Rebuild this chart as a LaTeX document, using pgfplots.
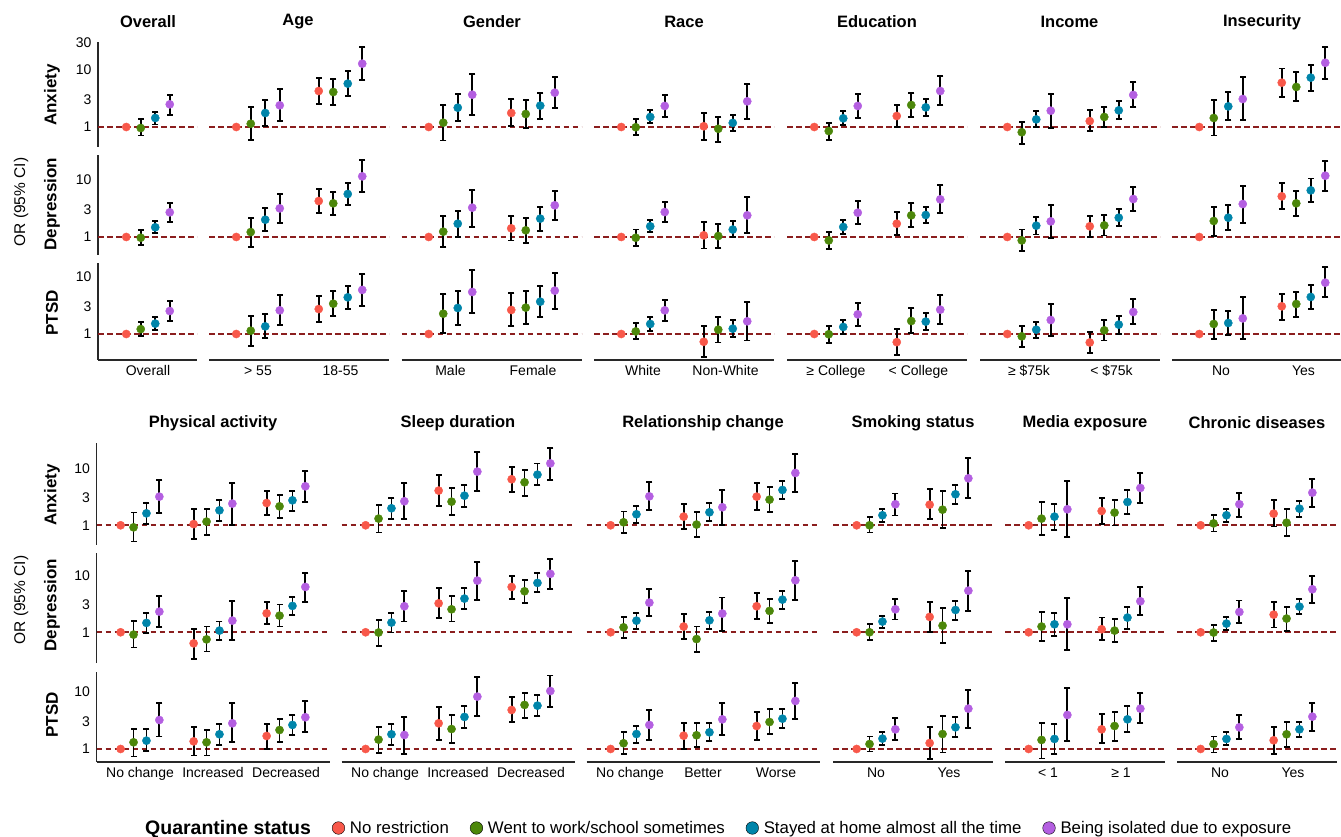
\documentclass[border=0pt]{standalone}
\usepackage{fontspec}
\setmainfont{Liberation Sans}
\usepackage{pgfplots}
\usepackage{pgfplotstable}
\pgfplotsset{compat=1.18}
\definecolor{cr}{RGB}{248,88,74}
\definecolor{cg}{RGB}{76,135,10}
\definecolor{cb}{RGB}{0,133,170}
\definecolor{cp}{RGB}{180,95,225}
\definecolor{refc}{RGB}{139,30,30}
\definecolor{axc}{RGB}{40,40,40}
\newcommand\tfont{\fontsize{14}{16}\selectfont}
\newcommand\hfont{\fontsize{16.5}{19}\selectfont\bfseries}
\newcommand\rfont{\fontsize{17}{19}\selectfont\bfseries}
\pgfplotsset{
 my panel/.style={/pgfplots/.cd, scale only axis, clip=false,
  axis x line*=bottom, axis y line*=left,
  x axis line style={draw=none}, y axis line style={draw=none},
  xtick=\empty, ytick=\empty, major tick length=0pt, minor tick length=0pt,
  extra y ticks={1}, extra y tick labels={}, extra y tick style={grid=major},
  major grid style={draw=refc, line width=1.7pt, dash pattern=on 5.5pt off 3.5pt},
  tick label style={font=\tfont}, xticklabel style={yshift=-2pt}, yticklabel style={xshift=-3pt}},
 my ly/.style={/pgfplots/.cd, y axis line style={draw=axc, line width=1.3pt}, ytick={1,3,10}, yticklabels={1,3,10}},
 my bx/.style={/pgfplots/.cd, x axis line style={draw=axc, line width=1.3pt}},
 my tA/.style={/pgfplots/.cd, ymin=0.446, ymax=31, height=105pt},
 my tD/.style={/pgfplots/.cd, ymin=0.483, ymax=27.5, height=100pt},
 my tP/.style={/pgfplots/.cd, ymin=0.35, ymax=17.6, height=97pt},
 my bA/.style={/pgfplots/.cd, ymin=0.451, ymax=27.8, height=102pt},
 my bD/.style={/pgfplots/.cd, ymin=0.289, ymax=24.6, height=110pt},
 my bP/.style={/pgfplots/.cd, ymin=0.591, ymax=22.4, height=90pt},
 my c1/.style={/pgfplots/.cd, xmin=-50, xmax=49, width=99pt},
 my c2/.style={/pgfplots/.cd, xmin=-49, xmax=131, width=180pt},
 my b3/.style={/pgfplots/.cd, xmin=-43.5, xmax=189.5, width=233pt},
 my b2/.style={/pgfplots/.cd, xmin=-43, xmax=117, width=160pt},
 my cap/.style={/pgfplots/.cd, only marks, color=black, mark=-, mark size=3pt, mark options={draw=black, line width=1.8pt}},
 my dots/.style={/pgfplots/.cd, scatter, only marks, mark=*, mark size=4.1pt, point meta=explicit symbolic,
  scatter/classes={r={draw=cr,fill=cr},g={draw=cg,fill=cg},b={draw=cb,fill=cb},p={draw=cp,fill=cp}}},
}
\newcommand{\panel}[2]{%
\begin{axis}[ymode=log,my panel,anchor=south west,#1]
\addplot[only marks, mark=none, error bars/y dir=both, error bars/y explicit, error bars/error mark=none,
  error bars/error bar style={draw=black, line width=1.8pt, solid}]
 table[x expr=\thisrow{g}*\GS+(\thisrow{k}-1.5)*\DS, y=y, y error plus expr=\thisrow{hi}-\thisrow{y}, y error minus expr=\thisrow{y}-\thisrow{lo}] {#2};
\addplot[my cap] table[x expr=\thisrow{g}*\GS+(\thisrow{k}-1.5)*\DS, y=lo] {#2};
\addplot[my cap] table[x expr=\thisrow{g}*\GS+(\thisrow{k}-1.5)*\DS, y=hi] {#2};
\addplot[my dots] table[x expr=\thisrow{g}*\GS+(\thisrow{k}-1.5)*\DS, y=y, meta=c] {#2};
\end{axis}}
% ---------------- top block ----------------
\pgfplotstableread{
g k c y lo hi
0 0 r 1 1 1
0 1 g 0.96 0.71 1.36
0 2 b 1.44 1.11 1.83
0 3 p 2.50 1.65 3.69
}\tOvA
\pgfplotstableread{
g k c y lo hi
0 0 r 1 1 1
0 1 g 0.97 0.73 1.31
0 2 b 1.48 1.18 1.91
0 3 p 2.71 1.81 3.95
}\tOvD
\pgfplotstableread{
g k c y lo hi
0 0 r 1 1 1
0 1 g 1.22 0.91 1.62
0 2 b 1.52 1.19 1.96
0 3 p 2.53 1.71 3.74
}\tOvP
\pgfplotstableread{
g k c y lo hi
0 0 r 1 1 1
0 1 g 1.14 0.60 2.24
0 2 b 1.76 1.03 2.94
0 3 p 2.40 1.27 4.71
1 0 r 4.28 2.50 7.24
1 1 g 4.11 2.43 6.95
1 2 b 5.76 3.50 9.60
1 3 p 12.9 6.59 25.3
}\tAgA
\pgfplotstableread{
g k c y lo hi
0 0 r 1 1 1
0 1 g 1.22 0.67 2.15
0 2 b 2.01 1.27 3.18
0 3 p 3.18 1.78 5.68
1 0 r 4.28 2.64 6.95
1 1 g 3.90 2.40 6.24
1 2 b 5.68 3.60 8.87
1 3 p 11.6 6.07 22.7
}\tAgD
\pgfplotstableread{
g k c y lo hi
0 0 r 1 1 1
0 1 g 1.14 0.61 2.07
0 2 b 1.36 0.85 2.21
0 3 p 2.60 1.42 4.83
1 0 r 2.74 1.62 4.64
1 1 g 3.40 2.04 5.76
1 2 b 4.40 2.74 7.05
1 3 p 5.93 3.06 11.4
}\tAgP
\pgfplotstableread{
g k c y lo hi
0 0 r 1 1 1
0 1 g 1.19 0.58 2.40
0 2 b 2.18 1.26 3.84
0 3 p 3.69 1.65 8.39
1 0 r 1.76 1.03 3.10
1 1 g 1.69 0.97 3.02
1 2 b 2.37 1.40 4.00
1 3 p 4.00 2.15 7.63
}\tGeA
\pgfplotstableread{
g k c y lo hi
0 0 r 1 1 1
0 1 g 1.24 0.66 2.30
0 2 b 1.71 1.00 2.82
0 3 p 3.27 1.52 6.77
1 0 r 1.42 0.87 2.37
1 1 g 1.31 0.78 2.15
1 2 b 2.10 1.29 3.31
1 3 p 3.60 2.01 6.33
}\tGeD
\pgfplotstableread{
g k c y lo hi
0 0 r 1 1 1
0 1 g 2.27 1.04 4.96
0 2 b 2.86 1.46 5.60
0 3 p 5.46 2.34 13.4
1 0 r 2.64 1.36 5.17
1 1 g 2.90 1.52 5.60
1 2 b 3.69 1.96 6.95
1 3 p 5.76 2.74 11.8
}\tGeP
\pgfplotstableread{
g k c y lo hi
0 0 r 1 1 1
0 1 g 0.99 0.72 1.40
0 2 b 1.50 1.16 1.96
0 3 p 2.34 1.50 3.60
1 0 r 1.03 0.59 1.76
1 1 g 0.93 0.55 1.52
1 2 b 1.18 0.84 1.65
1 3 p 2.82 1.38 5.76
}\tRaA
\pgfplotstableread{
g k c y lo hi
0 0 r 1 1 1
0 1 g 0.97 0.70 1.35
0 2 b 1.54 1.21 1.99
0 3 p 2.74 1.81 4.17
1 0 r 1.07 0.63 1.86
1 1 g 1.04 0.64 1.71
1 2 b 1.35 0.99 1.88
1 3 p 2.40 1.18 4.96
}\tRaD
\pgfplotstableread{
g k c y lo hi
0 0 r 1 1 1
0 1 g 1.11 0.82 1.58
0 2 b 1.50 1.14 1.99
0 3 p 2.60 1.67 4.00
1 0 r 0.73 0.40 1.36
1 1 g 1.19 0.71 1.96
1 2 b 1.24 0.89 1.74
1 3 p 1.67 0.77 3.60
}\tRaP
\pgfplotstableread{
g k c y lo hi
0 0 r 1 1 1
0 1 g 0.85 0.60 1.19
0 2 b 1.42 1.07 1.88
0 3 p 2.34 1.46 3.79
1 0 r 1.56 1.00 2.46
1 1 g 2.43 1.48 3.95
1 2 b 2.21 1.58 3.06
1 3 p 4.28 2.40 7.74
}\tEdA
\pgfplotstableread{
g k c y lo hi
0 0 r 1 1 1
0 1 g 0.87 0.62 1.21
0 2 b 1.50 1.13 1.96
0 3 p 2.67 1.69 4.22
1 0 r 1.71 1.10 2.71
1 1 g 2.40 1.48 3.95
1 2 b 2.43 1.76 3.36
1 3 p 4.58 2.60 8.17
}\tEdD
\pgfplotstableread{
g k c y lo hi
0 0 r 1 1 1
0 1 g 0.99 0.70 1.36
0 2 b 1.33 1.00 1.74
0 3 p 2.21 1.40 3.50
1 0 r 0.72 0.43 1.22
1 1 g 1.69 1.03 2.82
1 2 b 1.65 1.18 2.30
1 3 p 2.67 1.48 4.83
}\tEdP
\pgfplotstableread{
g k c y lo hi
0 0 r 1 1 1
0 1 g 0.81 0.51 1.24
0 2 b 1.36 0.99 1.88
0 3 p 1.93 0.97 3.79
1 0 r 1.27 0.84 1.96
1 1 g 1.50 0.99 2.27
1 2 b 1.96 1.40 2.82
1 3 p 3.65 2.21 6.16
}\tInA
\pgfplotstableread{
g k c y lo hi
0 0 r 1 1 1
0 1 g 0.87 0.57 1.35
0 2 b 1.58 1.11 2.21
0 3 p 1.88 0.95 3.65
1 0 r 1.54 1.01 2.30
1 1 g 1.60 1.06 2.40
1 2 b 2.18 1.54 3.10
1 3 p 4.64 2.90 7.63
}\tInD
\pgfplotstableread{
g k c y lo hi
0 0 r 1 1 1
0 1 g 0.91 0.59 1.36
0 2 b 1.19 0.85 1.62
0 3 p 1.76 0.92 3.40
1 0 r 0.71 0.46 1.10
1 1 g 1.16 0.77 1.74
1 2 b 1.46 1.00 2.04
1 3 p 2.43 1.52 4.06
}\tInP
\pgfplotstableread{
g k c y lo hi
0 0 r 1 1 1
0 1 g 1.44 0.71 2.94
0 2 b 2.30 1.31 4.11
0 3 p 3.10 1.31 7.63
1 0 r 5.99 3.36 10.6
1 1 g 5.04 2.86 9.10
1 2 b 7.34 4.22 12.4
1 3 p 13.4 6.95 25.3
}\tIsA
\pgfplotstableread{
g k c y lo hi
0 0 r 1 1 1
0 1 g 1.91 1.03 3.36
0 2 b 2.18 1.31 3.60
0 3 p 3.79 1.76 7.74
1 0 r 5.17 3.10 8.87
1 1 g 3.90 2.30 6.42
1 2 b 6.59 4.06 10.6
1 3 p 11.9 6.50 21.8
}\tIsD
\pgfplotstableread{
g k c y lo hi
0 0 r 1 1 1
0 1 g 1.50 0.82 2.67
0 2 b 1.56 0.96 2.53
0 3 p 1.88 0.82 4.40
1 0 r 3.06 1.78 5.10
1 1 g 3.36 1.99 5.53
1 2 b 4.46 2.74 7.15
1 3 p 7.95 4.46 14.8
}\tIsP
% ---------------- bottom block ----------------
\pgfplotstableread{
g k c y lo hi
0 0 r 1 1 1
0 1 g 0.92 0.52 1.67
0 2 b 1.62 1.04 2.43
0 3 p 3.18 1.62 6.24
1 0 r 1.05 0.58 1.96
1 1 g 1.16 0.68 1.96
1 2 b 1.83 1.19 2.82
1 3 p 2.40 1.01 5.46
2 0 r 2.46 1.52 4.06
2 1 g 2.15 1.35 3.45
2 2 b 2.74 1.78 4.06
2 3 p 4.83 2.60 8.99
}\tPhA
\pgfplotstableread{
g k c y lo hi
0 0 r 1 1 1
0 1 g 0.91 0.54 1.56
0 2 b 1.46 0.96 2.15
0 3 p 2.30 1.22 4.34
1 0 r 0.64 0.34 1.14
1 1 g 0.75 0.46 1.26
1 2 b 1.07 0.73 1.54
1 3 p 1.60 0.73 3.55
2 0 r 2.15 1.38 3.45
2 1 g 1.96 1.26 3.06
2 2 b 2.90 1.99 4.22
2 3 p 6.24 3.45 11.1
}\tPhD
\pgfplotstableread{
g k c y lo hi
0 0 r 1 1 1
0 1 g 1.31 0.74 2.24
0 2 b 1.40 0.91 2.21
0 3 p 3.22 1.65 6.33
1 0 r 1.36 0.77 2.40
1 1 g 1.31 0.77 2.15
1 2 b 1.81 1.19 2.71
1 3 p 2.82 1.31 6.33
2 0 r 1.69 1.00 2.74
2 1 g 2.15 1.31 3.40
2 2 b 2.64 1.74 4.00
2 3 p 3.60 1.96 6.95
}\tPhP
\pgfplotstableread{
g k c y lo hi
0 0 r 1 1 1
0 1 g 1.31 0.75 2.27
0 2 b 1.99 1.31 3.06
0 3 p 2.64 1.27 5.46
1 0 r 4.06 2.15 7.74
1 1 g 2.60 1.50 4.46
1 2 b 3.31 2.12 5.17
1 3 p 8.75 4.00 19.4
2 0 r 6.42 3.90 10.7
2 1 g 5.68 3.31 9.36
2 2 b 7.74 5.04 12.1
2 3 p 12.2 6.33 23.0
}\tSlA
\pgfplotstableread{
g k c y lo hi
0 0 r 1 1 1
0 1 g 0.99 0.58 1.65
0 2 b 1.48 0.99 2.21
0 3 p 2.86 1.54 5.31
1 0 r 3.22 1.76 5.99
1 1 g 2.53 1.54 4.28
1 2 b 3.90 2.60 5.93
1 3 p 8.06 3.69 16.9
2 0 r 6.24 3.79 9.80
2 1 g 5.24 3.22 8.39
2 2 b 7.34 5.10 10.8
2 3 p 10.6 5.68 19.1
}\tSlD
\pgfplotstableread{
g k c y lo hi
0 0 r 1 1 1
0 1 g 1.46 0.86 2.46
0 2 b 1.81 1.16 2.78
0 3 p 1.76 0.81 3.69
1 0 r 2.82 1.44 5.53
1 1 g 2.24 1.29 3.95
1 2 b 3.65 2.37 5.60
1 3 p 8.28 3.79 18.1
2 0 r 4.83 2.94 8.28
2 1 g 5.93 3.55 9.70
2 2 b 5.76 3.79 8.75
2 3 p 10.4 5.53 19.4
}\tSlP
\pgfplotstableread{
g k c y lo hi
0 0 r 1 1 1
0 1 g 1.13 0.74 1.74
0 2 b 1.56 1.08 2.21
0 3 p 3.22 1.83 5.68
1 0 r 1.42 0.86 2.37
1 1 g 1.03 0.62 1.69
1 2 b 1.69 1.19 2.43
1 3 p 2.07 1.01 4.17
2 0 r 3.18 1.86 5.46
2 1 g 2.82 1.71 4.64
2 2 b 4.17 2.90 6.07
2 3 p 8.28 3.84 18.1
}\tReA
\pgfplotstableread{
g k c y lo hi
0 0 r 1 1 1
0 1 g 1.22 0.80 1.83
0 2 b 1.60 1.14 2.21
0 3 p 3.31 1.96 5.68
1 0 r 1.26 0.77 2.07
1 1 g 0.76 0.45 1.26
1 2 b 1.62 1.13 2.30
1 3 p 2.13 1.07 4.06
2 0 r 2.86 1.69 4.96
2 1 g 2.37 1.44 3.84
2 2 b 3.74 2.56 5.24
2 3 p 8.17 3.69 17.6
}\tReD
\pgfplotstableread{
g k c y lo hi
0 0 r 1 1 1
0 1 g 1.26 0.81 1.96
0 2 b 1.83 1.29 2.56
0 3 p 2.64 1.44 4.83
1 0 r 1.71 1.00 2.90
1 1 g 1.74 1.07 2.82
1 2 b 1.96 1.36 2.90
1 3 p 3.31 1.76 6.33
2 0 r 2.53 1.44 4.52
2 1 g 2.97 1.81 4.96
2 2 b 3.40 2.37 4.96
2 3 p 6.95 3.31 14.6
}\tReP
\pgfplotstableread{
g k c y lo hi
0 0 r 1 1 1
0 1 g 1.00 0.75 1.42
0 2 b 1.50 1.13 1.93
0 3 p 2.34 1.48 3.60
1 0 r 2.30 1.31 4.28
1 1 g 1.88 0.91 4.00
1 2 b 3.50 2.34 5.17
1 3 p 6.67 2.97 15.0
}\tSmA
\pgfplotstableread{
g k c y lo hi
0 0 r 1 1 1
0 1 g 1.00 0.74 1.40
0 2 b 1.54 1.19 1.96
0 3 p 2.53 1.67 3.79
1 0 r 1.86 1.00 3.36
1 1 g 1.31 0.64 2.67
1 2 b 2.46 1.65 3.55
1 3 p 5.37 2.34 11.9
}\tSmD
\pgfplotstableread{
g k c y lo hi
0 0 r 1 1 1
0 1 g 1.22 0.90 1.65
0 2 b 1.52 1.18 1.96
0 3 p 2.21 1.44 3.45
1 0 r 1.27 0.67 2.46
1 1 g 1.83 0.87 3.84
1 2 b 2.40 1.60 3.60
1 3 p 5.10 2.37 11.0
}\tSmP
\pgfplotstableread{
g k c y lo hi
0 0 r 1 1 1
0 1 g 1.31 0.67 2.53
0 2 b 1.42 0.83 2.40
0 3 p 1.91 0.62 5.99
1 0 r 1.78 1.05 2.97
1 1 g 1.67 0.99 2.82
1 2 b 2.56 1.56 4.17
1 3 p 4.52 2.50 8.28
}\tMeA
\pgfplotstableread{
g k c y lo hi
0 0 r 1 1 1
0 1 g 1.26 0.71 2.27
0 2 b 1.38 0.86 2.21
0 3 p 1.38 0.49 3.95
1 0 r 1.13 0.73 1.81
1 1 g 1.07 0.67 1.69
1 2 b 1.81 1.16 2.74
1 3 p 3.50 2.01 6.16
}\tMeD
\pgfplotstableread{
g k c y lo hi
0 0 r 1 1 1
0 1 g 1.44 0.68 2.90
0 2 b 1.50 0.82 2.71
0 3 p 3.95 1.40 11.6
1 0 r 2.21 1.26 4.06
1 1 g 2.53 1.40 4.40
1 2 b 3.31 1.96 5.68
1 3 p 5.10 2.82 9.70
}\tMeP
\pgfplotstableread{
g k c y lo hi
0 0 r 1 1 1
0 1 g 1.08 0.78 1.52
0 2 b 1.50 1.16 1.96
0 3 p 2.34 1.42 3.74
1 0 r 1.60 0.95 2.78
1 1 g 1.11 0.65 1.93
1 2 b 1.96 1.40 2.71
1 3 p 3.74 2.12 6.59
}\tChA
\pgfplotstableread{
g k c y lo hi
0 0 r 1 1 1
0 1 g 0.99 0.71 1.36
0 2 b 1.42 1.10 1.83
0 3 p 2.27 1.44 3.60
1 0 r 2.04 1.21 3.36
1 1 g 1.74 1.05 2.78
1 2 b 2.82 2.07 3.79
1 3 p 5.68 3.31 9.80
}\tChD
\pgfplotstableread{
g k c y lo hi
0 0 r 1 1 1
0 1 g 1.22 0.87 1.65
0 2 b 1.50 1.16 1.96
0 3 p 2.40 1.48 3.95
1 0 r 1.42 0.82 2.46
1 1 g 1.81 1.10 2.94
1 2 b 2.21 1.60 3.02
1 3 p 3.69 2.07 6.50
}\tChP
\begin{document}
\begin{tikzpicture}
\useasboundingbox (0,0) rectangle (1341pt,836pt);
% ===== top block =====
\def\GS{82.5}\def\DS{14.5}
\panel{at={(98pt,689pt)},my c1,my tA,my ly,ytick={1,3,10,30},yticklabels={1,3,10,30}}{\tOvA}
\panel{at={(98pt,581pt)},my c1,my tD,my ly}{\tOvD}
\panel{at={(98pt,476pt)},my c1,my tP,my ly,my bx,xtick={0},xticklabels={Overall}}{\tOvP}
\panel{at={(209pt,689pt)},my c2,my tA}{\tAgA}
\panel{at={(209pt,581pt)},my c2,my tD}{\tAgD}
\panel{at={(209pt,476pt)},my c2,my tP,my bx,xtick={0,82.5},xticklabels={> 55,18-55}}{\tAgP}
\panel{at={(401.5pt,689pt)},my c2,my tA}{\tGeA}
\panel{at={(401.5pt,581pt)},my c2,my tD}{\tGeD}
\panel{at={(401.5pt,476pt)},my c2,my tP,my bx,xtick={0,82.5},xticklabels={Male,Female}}{\tGeP}
\panel{at={(594pt,689pt)},my c2,my tA}{\tRaA}
\panel{at={(594pt,581pt)},my c2,my tD}{\tRaD}
\panel{at={(594pt,476pt)},my c2,my tP,my bx,xtick={0,82.5},xticklabels={White,Non-White}}{\tRaP}
\panel{at={(787pt,689pt)},my c2,my tA}{\tEdA}
\panel{at={(787pt,581pt)},my c2,my tD}{\tEdD}
\panel{at={(787pt,476pt)},my c2,my tP,my bx,xtick={0,82.5},xticklabels={≥ College,< College}}{\tEdP}
\panel{at={(980pt,689pt)},my c2,my tA}{\tInA}
\panel{at={(980pt,581pt)},my c2,my tD}{\tInD}
\panel{at={(980pt,476pt)},my c2,my tP,my bx,xtick={0,82.5},xticklabels={≥ \$75k,< \$75k}}{\tInP}
\panel{at={(1172pt,689pt)},my c2,my tA}{\tIsA}
\panel{at={(1172pt,581pt)},my c2,my tD}{\tIsD}
\panel{at={(1172pt,476pt)},my c2,my tP,my bx,xtick={0,82.5},xticklabels={No,Yes}}{\tIsP}
% ===== bottom block =====
\def\GS{73}\def\DS{12.9}
\panel{at={(96.5pt,291pt)},my b3,my bA,my ly}{\tPhA}
\panel{at={(96.5pt,173pt)},my b3,my bD,my ly}{\tPhD}
\panel{at={(96.5pt,74pt)},my b3,my bP,my ly,my bx,xtick={0,73,146},xticklabels={No change,Increased,Decreased}}{\tPhP}
\panel{at={(341.5pt,291pt)},my b3,my bA}{\tSlA}
\panel{at={(341.5pt,173pt)},my b3,my bD}{\tSlD}
\panel{at={(341.5pt,74pt)},my b3,my bP,my bx,xtick={0,73,146},xticklabels={No change,Increased,Decreased}}{\tSlP}
\panel{at={(586.5pt,291pt)},my b3,my bA}{\tReA}
\panel{at={(586.5pt,173pt)},my b3,my bD}{\tReD}
\panel{at={(586.5pt,74pt)},my b3,my bP,my bx,xtick={0,73,146},xticklabels={No change,Better,Worse}}{\tReP}
\panel{at={(833pt,291pt)},my b2,my bA}{\tSmA}
\panel{at={(833pt,173pt)},my b2,my bD}{\tSmD}
\panel{at={(833pt,74pt)},my b2,my bP,my bx,xtick={0,73},xticklabels={No,Yes}}{\tSmP}
\panel{at={(1005pt,291pt)},my b2,my bA}{\tMeA}
\panel{at={(1005pt,173pt)},my b2,my bD}{\tMeD}
\panel{at={(1005pt,74pt)},my b2,my bP,my bx,xtick={0,73},xticklabels={< 1,≥ 1}}{\tMeP}
\panel{at={(1177pt,291pt)},my b2,my bA}{\tChA}
\panel{at={(1177pt,173pt)},my b2,my bD}{\tChD}
\panel{at={(1177pt,74pt)},my b2,my bP,my bx,xtick={0,73},xticklabels={No,Yes}}{\tChP}
% ===== titles =====
\foreach \x/\t in {148/Overall,298/Age,492/Gender,684/Race,877/Education,1069.5/Income,1262/Insecurity}
  \node[font=\hfont] at (\x pt,814pt) {\t};
\foreach \x/\t in {213/Physical activity,458/Sleep duration,703/Relationship change,913/Smoking status,1085/Media exposure,1257/Chronic diseases}
  \node[font=\hfont] at (\x pt,413pt) {\t};
\foreach \y/\t in {741/Anxiety,632/Depression,523/PTSD,341/Anxiety,231/Depression,121/PTSD}
  \node[font=\rfont, rotate=90] at (52pt,\y pt) {\t};
\node[font=\fontsize{15.5}{18}\selectfont, rotate=90] at (21pt,634pt) {OR (95\% CI)};
\node[font=\fontsize{15.5}{18}\selectfont, rotate=90] at (21pt,236pt) {OR (95\% CI)};
% ===== legend =====
\begin{axis}[hide axis, scale only axis, width=10pt, height=10pt, at={(140pt,3pt)}, anchor=south west,
  xmin=0, xmax=1, ymin=0, ymax=1, legend columns=-1,
  legend image code/.code={\fill[#1] (6pt,0pt) circle (6.3pt);},
  legend style={at={(0,0.5)}, anchor=west, draw=none, fill=none, inner sep=0pt,
    font=\fontsize{16.8}{19}\selectfont,
    /tikz/every odd column/.append style={column sep=3pt},
    /tikz/every even column/.append style={column sep=19pt}}]
\addlegendimage{empty legend}\addlegendentry{\fontsize{19.5}{21}\selectfont\bfseries Quarantine status\hspace{6pt}}
\addlegendimage{fill=cr}\addlegendentry{No restriction}
\addlegendimage{fill=cg}\addlegendentry{Went to work/school sometimes}
\addlegendimage{fill=cb}\addlegendentry{Stayed at home almost all the time}
\addlegendimage{fill=cp}\addlegendentry{Being isolated due to exposure}
\end{axis}
\end{tikzpicture}
\end{document}
